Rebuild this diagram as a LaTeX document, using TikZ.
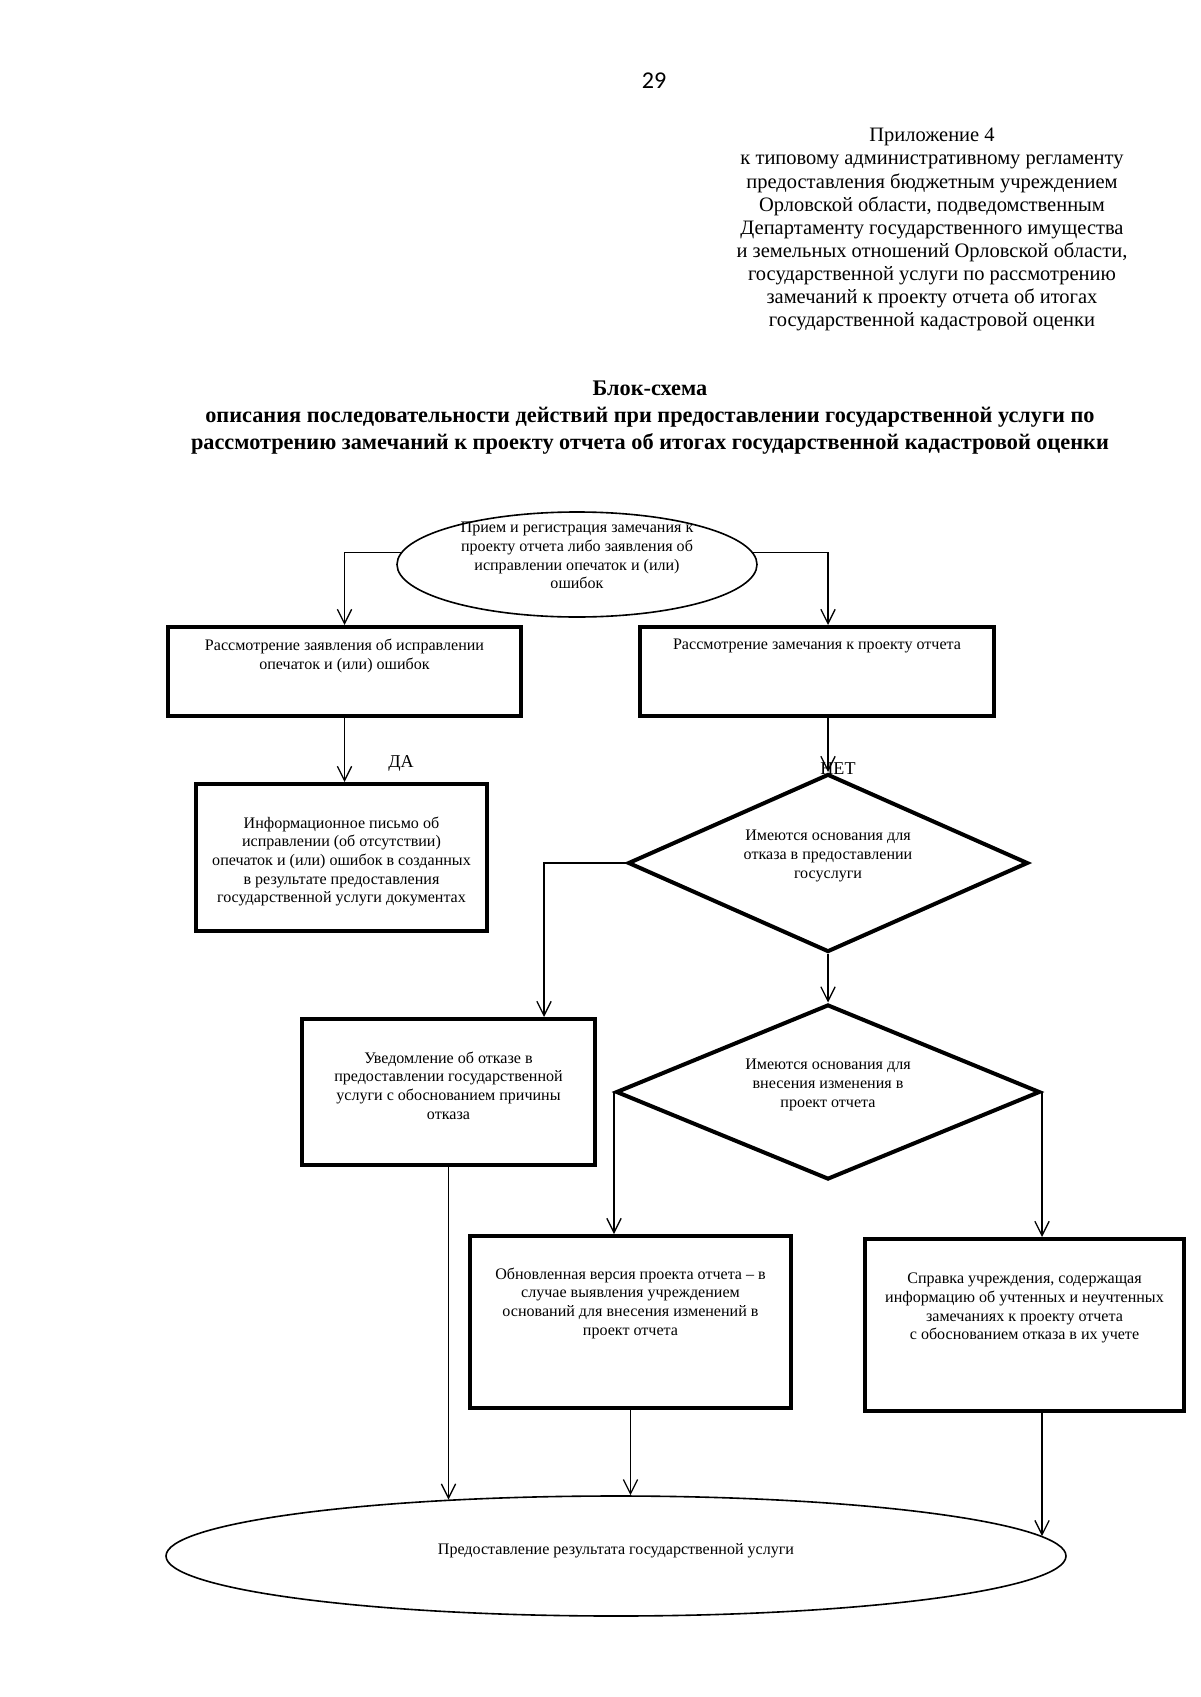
\documentclass[tikz,border=0pt]{standalone}
\usepackage{fontspec}
\setmainfont{Liberation Serif}
\newfontfamily\pagenumfont{Carlito}
\usetikzlibrary{arrows.meta,shapes.geometric,calc}
\newlength\pxu
\setlength\pxu{0.175mm}
\newcommand{\cell}[4]{\parbox[c][#2\pxu][t]{#1\pxu}{\centering\vspace*{#3\pxu}#4\par}}
\newcommand{\lifted}[3]{\smash{\raisebox{#1\pxu}{\parbox[c]{#2\pxu}{\centering #3}}}}
\tikzset{
  stepbox/.style={draw, rectangle, line width=2pt, inner sep=0pt, font=\fontsize{8}{9.3}\selectfont},
  decision/.style={draw, diamond, aspect=2.25, line width=2pt, inner sep=0pt, font=\fontsize{8}{9.3}\selectfont},
  terminal/.style={draw, ellipse, line width=0.8pt, inner sep=0pt, font=\fontsize{8}{9.3}\selectfont},
  answer/.style={inner sep=0pt, font=\fontsize{9}{10}\selectfont},
  flow/.style={-{Straight Barb[length=2.5mm,width=2.5mm]}, line width=0.65pt}
}
\begin{document}
\begin{tikzpicture}[x=0.175mm, y=-0.175mm]
\useasboundingbox[fill=white] (0,0) rectangle (1200,1697);

\node[inner sep=0pt, font=\pagenumfont\fontsize{12}{14}\selectfont] (pagenum) at (654,81) {29};
\node[inner sep=0pt, anchor=north, align=center, font=\fontsize{10.2}{11.5}\selectfont] (annex) at (932,128)
  {Приложение 4\\к типовому административному регламенту\\предоставления бюджетным учреждением\\Орловской области, подведомственным\\Департаменту государственного имущества\\и земельных отношений Орловской области,\\государственной услуги по рассмотрению\\замечаний к проекту отчета об итогах\\государственной кадастровой оценки};
\node[inner sep=0pt, anchor=north, align=center, font=\bfseries\fontsize{11.1}{13.6}\selectfont] (heading) at (650,380)
  {Блок-схема\\описания последовательности действий при предоставлении государственной услуги по\\рассмотрению замечаний к проекту отчета об итогах государственной кадастровой оценки};

\node[terminal, minimum width=360\pxu, minimum height=105\pxu] (recv) at (577,564.5)
  {\lifted{5}{250}{Прием и регистрация замечания к\\проекту отчета либо заявления об\\исправлении опечаток и (или)\\ошибок}};
\node[stepbox] (rev_fix) at (344.5,671.5)
  {\cell{353}{89}{12}{Рассмотрение заявления об исправлении\\опечаток и (или) ошибок}};
\node[stepbox] (rev_note) at (817,671.5)
  {\cell{354}{89}{12}{Рассмотрение замечания к проекту отчета}};
\node[stepbox] (letter) at (341.5,857.5)
  {\cell{291}{147}{32.5}{Информационное письмо об\\исправлении (об отсутствии)\\опечаток и (или) ошибок в созданных\\в результате предоставления\\государственной услуги документах}};
\node[decision, minimum width=400\pxu, minimum height=178\pxu] (dec_refuse) at (828,863)
  {\lifted{3}{200}{Имеются основания для\\отказа в предоставлении\\госуслуги}};
\node[stepbox] (refusal) at (448.5,1092)
  {\cell{293}{146}{32.5}{Уведомление об отказе в\\предоставлении государственной\\услуги с обоснованием причины\\отказа}};
\node[decision, minimum width=424\pxu, minimum height=175\pxu] (dec_change) at (828,1092)
  {\lifted{3}{200}{Имеются основания для\\внесения изменения в\\проект отчета}};
\node[stepbox] (updated) at (630.5,1322)
  {\cell{321}{172}{31.5}{Обновленная версия проекта отчета – в\\случае выявления учреждением\\оснований для внесения изменений в\\проект отчета}};
\node[stepbox] (certificate) at (1024.5,1325)
  {\cell{319}{172}{34}{Справка учреждения, содержащая\\информацию об учтенных и неучтенных\\замечаниях к проекту отчета\\с обоснованием отказа в их учете}};
\node[terminal, minimum width=900\pxu, minimum height=120\pxu] (result) at (616,1556)
  {\lifted{1}{500}{Предоставление результата государственной услуги}};

\node[answer] (yes) at (401,763) {ДА};
\node[answer] (no) at (838,769) {НЕТ};

\draw[flow] (recv.176) -| (rev_fix.north);
\draw[flow] (recv.4) -| (rev_note.north -| dec_refuse.north);
\draw[flow] (rev_fix.south) -- (rev_fix.south |- letter.north);
\draw[flow] (rev_note.south -| dec_refuse.north) -- (dec_refuse.north);
\draw[flow] (dec_refuse.west) -| ([xshift=-53\pxu]refusal.north east);
\draw[flow] (dec_refuse.south) -- (dec_change.north);
\draw[flow] (dec_change.west) -- (dec_change.west |- updated.north);
\draw[flow] (dec_change.east) -- (dec_change.east |- certificate.north);
\draw[flow] let \p1=(refusal.south), \p2=(result.center), \p3=(result.east), \p4=(result.north) in
  (\p1) -- (\x1,{\y2+(\y4-\y2)*sqrt(1-((\x1-\x2)/(\x3-\x2))^2)});
\draw[flow] (updated.south) -- (updated.south |- result.north);
\draw[flow] let \p1=(dec_change.east |- certificate.south), \p2=(result.center), \p3=(result.east), \p4=(result.north) in
  (\p1) -- (\x1,{\y2+(\y4-\y2)*sqrt(1-((\x1-\x2)/(\x3-\x2))^2)});
\end{tikzpicture}
\end{document}
